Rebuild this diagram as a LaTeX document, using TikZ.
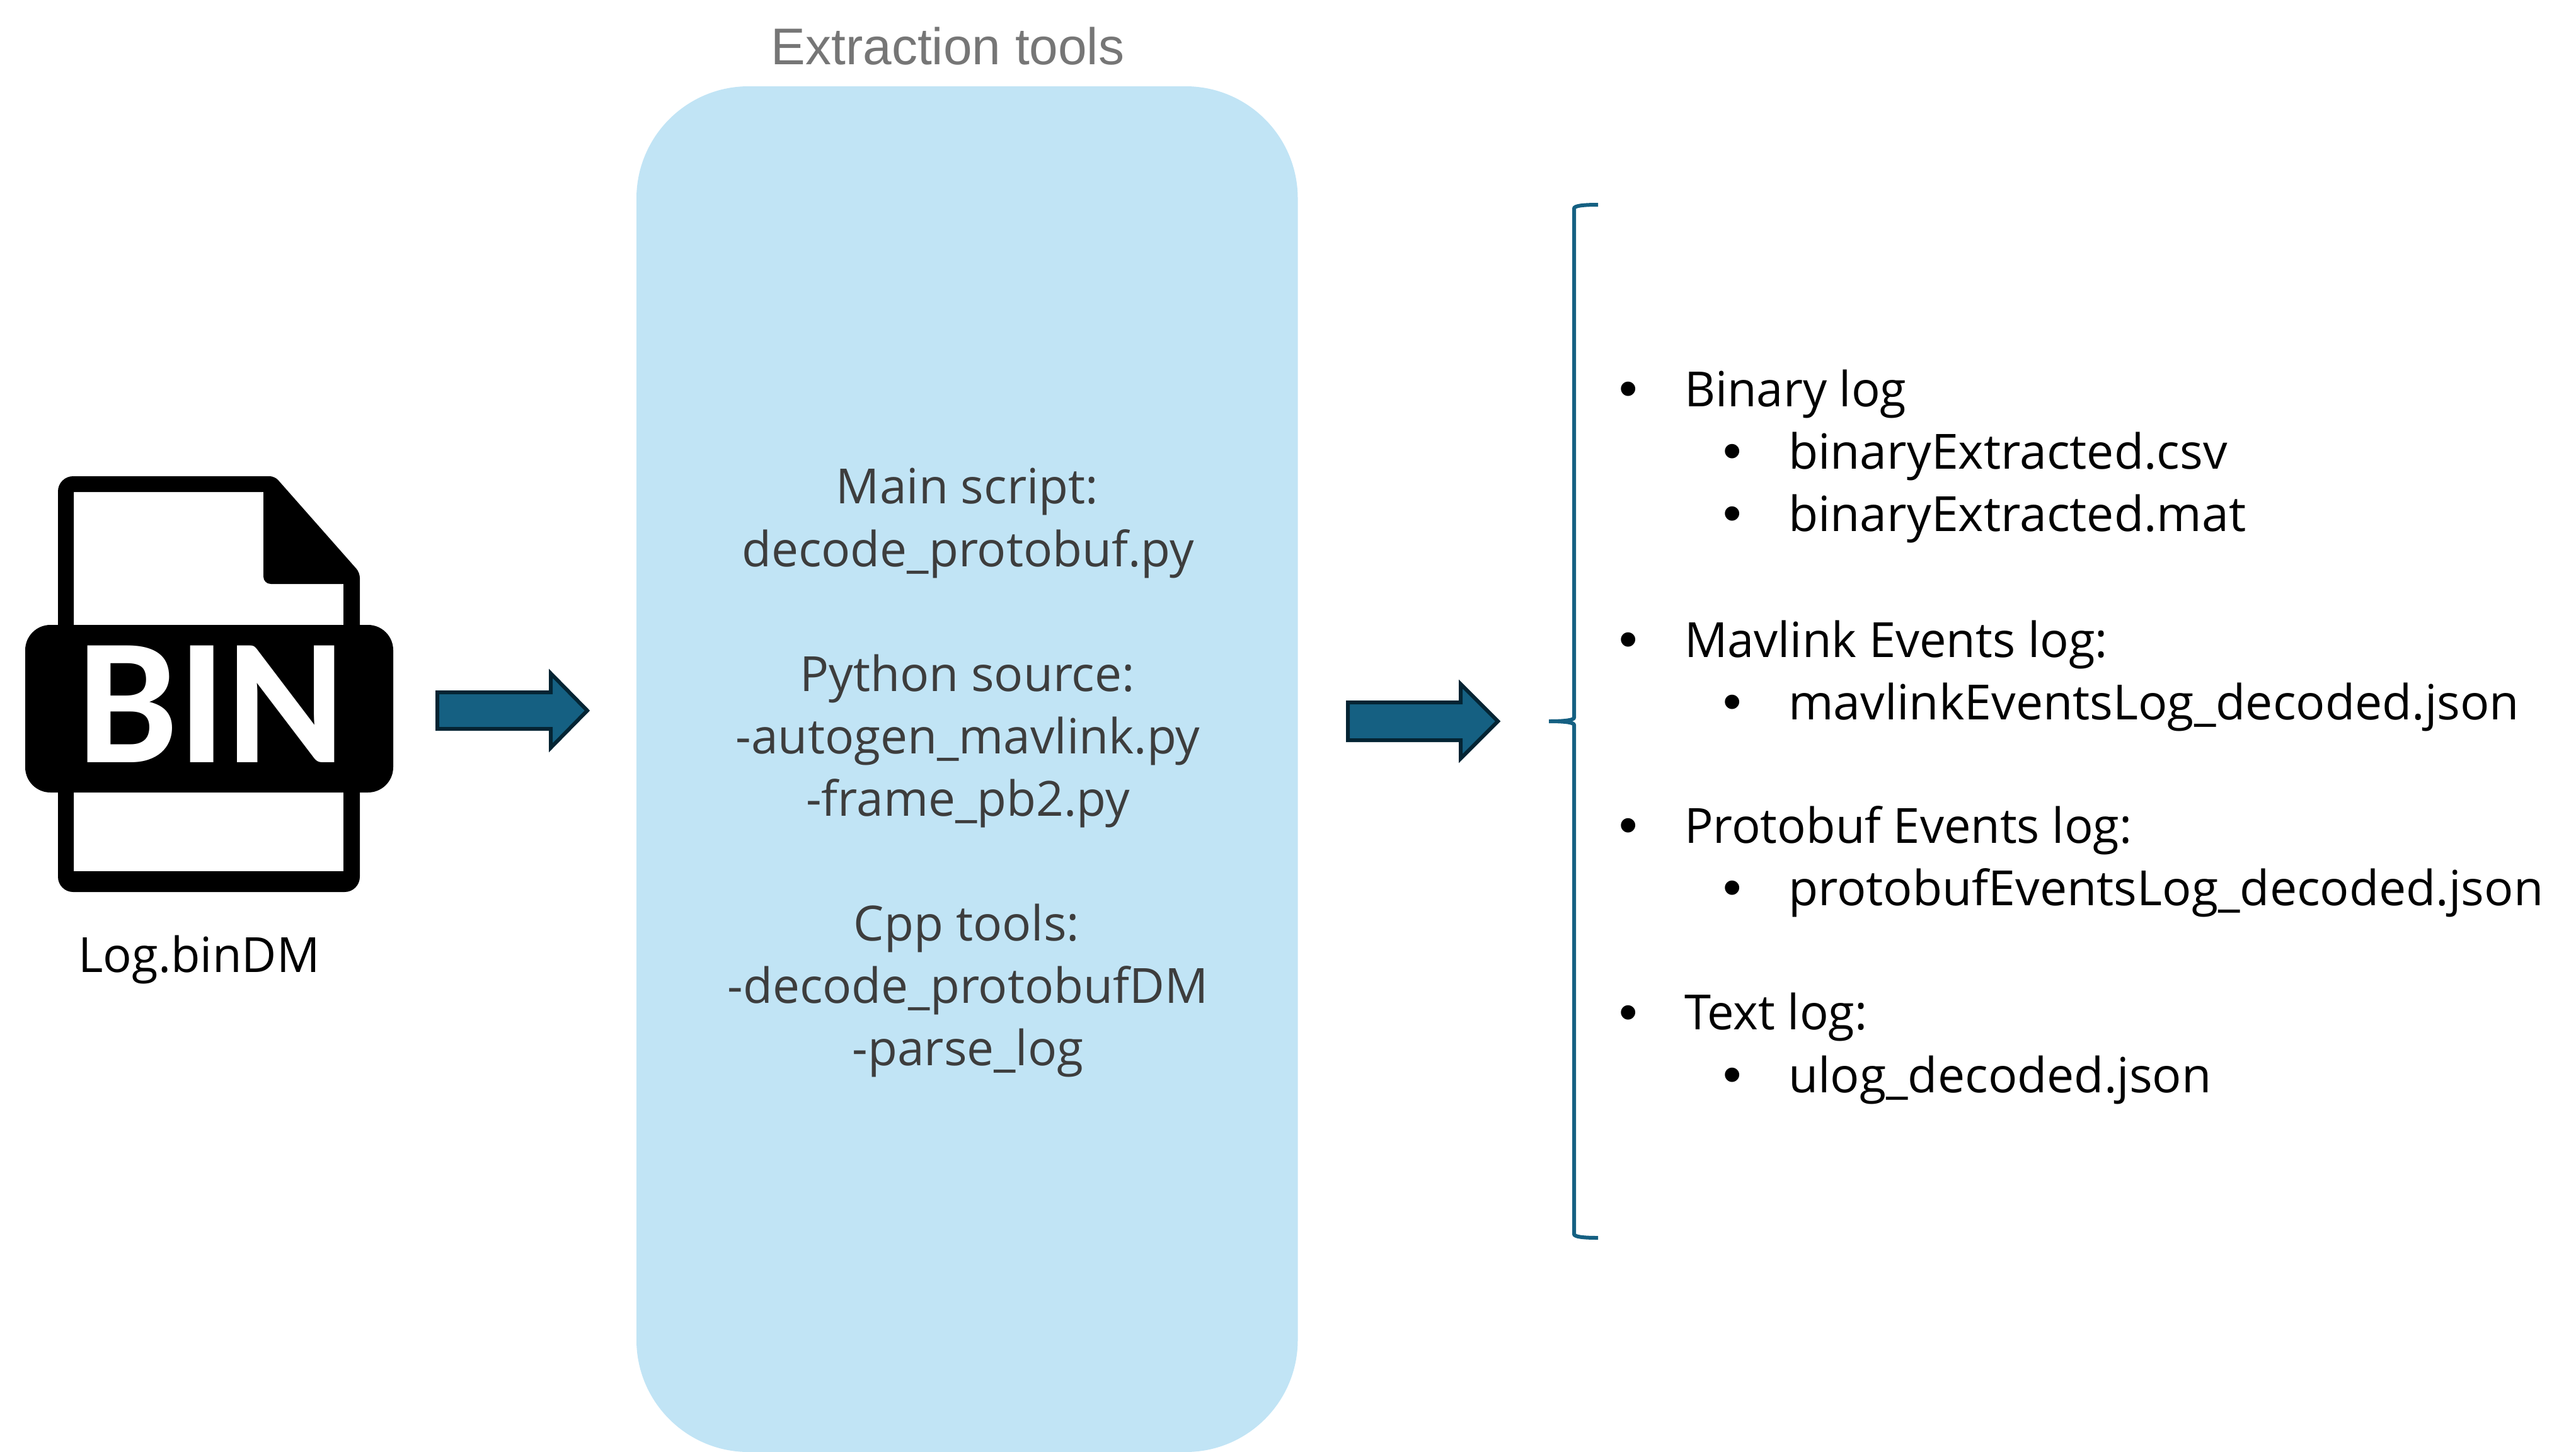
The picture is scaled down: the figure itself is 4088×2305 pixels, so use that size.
\documentclass[tikz,border=0pt]{standalone}
\usepackage{fontspec}
\setmainfont[FakeStretch=0.985]{Open Sans}
\newfontfamily\boxfont[FakeStretch=0.995]{Open Sans}
\newfontfamily\subfont[FakeStretch=1.0]{Open Sans}
\newfontfamily\titlefont{Liberation Sans}
\newfontfamily\iconfont{Carlito}
\definecolor{boxblue}{HTML}{C1E4F5}
\definecolor{arrowfill}{HTML}{156082}
\definecolor{arrowline}{HTML}{042433}
\definecolor{boxtext}{HTML}{3D3D3D}
\definecolor{titlegray}{HTML}{767676}
\tikzset{
  tx/.style={inner sep=0pt,outer sep=0pt,font=\fontsize{77}{77}\selectfont},
  boxline/.style={inner sep=0pt,outer sep=0pt,anchor=base,text=boxtext,font=\boxfont\fontsize{77}{77}\selectfont},
  listline/.style={tx,anchor=base west,text=black},
  subline/.style={inner sep=0pt,outer sep=0pt,anchor=base west,text=black,font=\subfont\fontsize{77}{77}\selectfont},
  dotmark/.style={inner sep=0pt,outer sep=0pt,anchor=base,text=black,font=\titlefont\fontsize{84}{84}\selectfont},
  blockarrow/.style={fill=arrowfill,draw=arrowline,line width=6pt,miter limit=10},
}
\begin{document}
\begin{tikzpicture}[x=1pt,y=-1pt]
\useasboundingbox (0,0) rectangle (4088,2305);
% file icon
\fill[black,even odd rule]
  (92,1000) [rounded corners=24pt] -- (92,756) [rounded corners=8pt] -- (436,756) -- (571,909) [rounded corners=24pt] -- (571,1416) -- (92,1416) [sharp corners] -- cycle
  (117,781) -- (418,781) -- (418,915) .. controls (418,922) and (423,927) .. (430,927) -- (545,927) -- (545,1100) -- (117,1100) -- cycle
  (117,1200) -- (545,1200) -- (545,1383) -- (117,1383) -- cycle;
\fill[black,rounded corners=40pt] (40,992) rectangle (624,1258);
\node[inner sep=0pt,outer sep=0pt,anchor=base,text=white,font=\iconfont\bfseries\fontsize{286}{286}\selectfont] (bin) at (335,1210) {BIN};
\node[tx,anchor=base,text=black] (logname) at (316,1543) {Log.binDM};
% box
\node[rectangle,draw=none,fill=boxblue,rounded corners=178pt,inner sep=0pt,minimum width=1049.5pt,minimum height=2168pt] (toolbox) at (1534.75,1221) {};
\node[inner sep=0pt,outer sep=0pt,anchor=base,text=titlegray,font=\titlefont\fontsize{82}{82}\selectfont] (title) at (1504,102) {Extraction tools};
\node[boxline] (b1) at (1535,799) {Main script:};
\node[boxline] (b2) at (1536,899) {decode\_protobuf.py};
\node[boxline] (b3) at (1535,1097) {Python source:};
\node[boxline] (b4) at (1536,1196) {-autogen\_mavlink.py};
\node[boxline] (b5) at (1536,1295) {-frame\_pb2.py};
\node[boxline] (b6) at (1534,1493) {Cpp tools:};
\node[boxline] (b7) at (1536,1592) {-decode\_protobufDM};
\node[boxline] (b8) at (1536,1691) {-parse\_log};
% arrows
\draw[blockarrow] (694,1099) -- (874,1099) -- (874,1069) -- (932,1128) -- (874,1187) -- (874,1157) -- (694,1157) -- cycle;
\draw[blockarrow] (2139,1115) -- (2318,1115) -- (2318,1086) -- (2377,1145) -- (2318,1204) -- (2318,1175) -- (2139,1175) -- cycle;
% brace
\draw[arrowfill,line width=6pt] (2536,325) .. controls (2510,325) and (2498,327) .. (2498,331) -- (2498,1139) .. controls (2498,1143) and (2485,1145) .. (2458,1145) .. controls (2485,1145) and (2498,1147) .. (2498,1151) -- (2498,1959) .. controls (2498,1963) and (2510,1965) .. (2536,1965);
% list
\node[dotmark] (d1) at (2584,645) {•};
\node[listline] (l1) at (2673,645) {Binary log};
\node[dotmark] (d2) at (2749,744) {•};
\node[subline] (l2) at (2838,744) {binaryExtracted.csv};
\node[dotmark] (d3) at (2749,843) {•};
\node[subline] (l3) at (2838,843) {binaryExtracted.mat};
\node[dotmark] (d4) at (2584,1043) {•};
\node[listline] (l4) at (2673,1043) {Mavlink Events log:};
\node[dotmark] (d5) at (2749,1142) {•};
\node[subline] (l5) at (2838,1142) {mavlinkEventsLog\_decoded.json};
\node[dotmark] (d6) at (2584,1338) {•};
\node[listline] (l6) at (2673,1338) {Protobuf Events log:};
\node[dotmark] (d7) at (2749,1437) {•};
\node[subline] (l7) at (2838,1437) {protobufEventsLog\_decoded.json};
\node[dotmark] (d8) at (2584,1635) {•};
\node[listline] (l8) at (2673,1634) {Text log:};
\node[dotmark] (d9) at (2749,1734) {•};
\node[subline] (l9) at (2838,1734) {ulog\_decoded.json};
\end{tikzpicture}
\end{document}
